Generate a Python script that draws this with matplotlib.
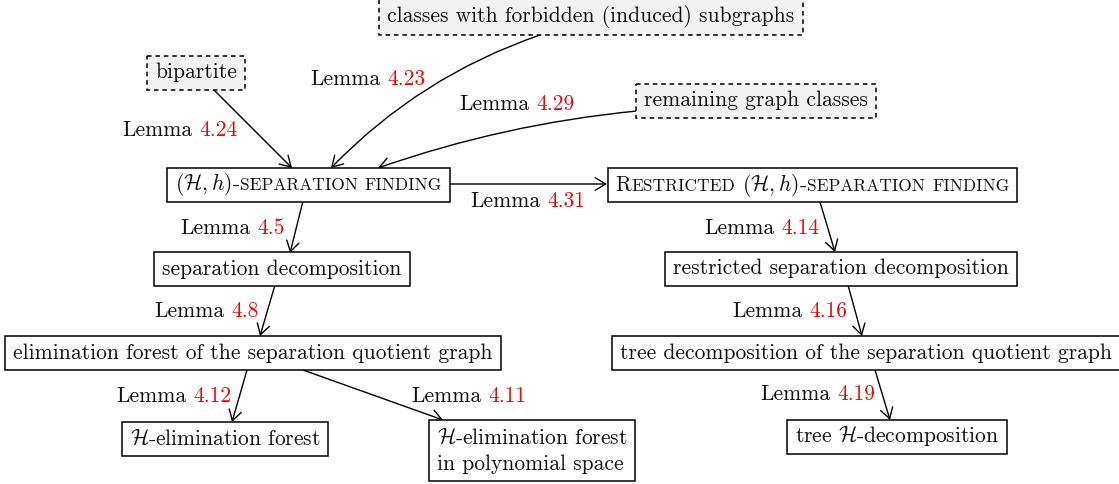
import matplotlib
matplotlib.use('Agg')
import matplotlib.pyplot as plt
from matplotlib.patches import Rectangle, FancyArrowPatch

plt.rcParams['font.family'] = 'cmr10'
plt.rcParams['mathtext.fontset'] = 'cm'
plt.rcParams['axes.unicode_minus'] = False

BIG = 15.5    # normal text size
SMALL = 12.5  # fake small caps
RED = '#ff0000'

# node texts: each node is a list of lines, each line a list of (text, kind)
# kind: 'n' normal, 's' small caps, ' ' = word gap
node_ids = ['forbidden', 'bipartite', 'remaining', 'sepfind', 'rsepfind',
            'sepdec', 'rsepdec', 'elimq', 'treeq', 'helim', 'helimpoly', 'treeh']
node_texts = {
    'forbidden': [[('classes with forbidden (induced) subgraphs', 'n')]],
    'bipartite': [[('bipartite', 'n')]],
    'remaining': [[('remaining graph classes', 'n')]],
    'sepfind': [[(r'$(\mathcal{H},h)$-', 'n'), ('SEPARATION', 's'), (' ', ' '), ('FINDING', 's')]],
    'rsepfind': [[('R', 'n'), ('ESTRICTED', 's'), (' ', ' '), (r'$(\mathcal{H},h)$-', 'n'),
                  ('SEPARATION', 's'), (' ', ' '), ('FINDING', 's')]],
    'sepdec': [[('separation decomposition', 'n')]],
    'rsepdec': [[('restricted separation decomposition', 'n')]],
    'elimq': [[('elimination forest of the separation quotient graph', 'n')]],
    'treeq': [[('tree decomposition of the separation quotient graph', 'n')]],
    'helim': [[(r'$\mathcal{H}$-elimination forest', 'n')]],
    'helimpoly': [[(r'$\mathcal{H}$-elimination forest', 'n')], [('in polynomial space', 'n')]],
    'treeh': [[(r'tree $\mathcal{H}$-decomposition', 'n')]],
}
dashed_nodes = ['forbidden', 'bipartite', 'remaining']

# edges: source, target, lemma number
edges = [
    ('bipartite', 'sepfind', '4.24'),
    ('forbidden', 'sepfind', '4.23'),
    ('remaining', 'sepfind', '4.29'),
    ('sepfind', 'rsepfind', '4.31'),
    ('sepfind', 'sepdec', '4.5'),
    ('sepdec', 'elimq', '4.8'),
    ('rsepfind', 'rsepdec', '4.14'),
    ('rsepdec', 'treeq', '4.16'),
    ('elimq', 'helim', '4.12'),
    ('elimq', 'helimpoly', '4.11'),
    ('treeq', 'treeh', '4.19'),
]

# ---- layout (pixel coordinates, y downwards) ----
node_center = {
    'forbidden': (591, 16.5), 'bipartite': (196, 72.5), 'remaining': (756, 100.5),
    'sepfind': (308.5, 184.5), 'rsepfind': (812.5, 185), 'sepdec': (282, 269),
    'rsepdec': (841, 268.5), 'elimq': (253, 353), 'treeq': (866, 353),
    'helim': (225, 438.5), 'helimpoly': (532, 450.5), 'treeh': (897, 436.5),
}
node_height = {'forbidden': 37, 'helimpoly': 61}
edge_pts = [
    ((214, 90), (292, 168), 0.0),
    ((540, 35), (331, 168), 0.12),
    ((637, 111), (378, 168), 0.06),
    ((450, 184), (607, 184), 0.0),
    ((303, 201), (290, 253), 0.0),
    ((275, 285), (260, 336), 0.0),
    ((820, 202), (835, 252), 0.0),
    ((848, 285), (862, 336), 0.0),
    ((247, 370), (232, 422), 0.0),
    ((303, 370), (443, 420), 0.0),
    ((875, 370), (890, 420), 0.0),
]
label_center = [(180, 130), (368, 79), (517, 104), (528, 201), (233, 228), (207, 311),
                (762, 228), (790, 311), (174, 396), (469, 396), (818, 394)]

PADX = 8
GAP = 7
LINE_SKIP = 26


fig = plt.figure(figsize=(11.19, 4.84), dpi=100)
ax = fig.add_axes([0, 0, 1, 1])
ax.set_xlim(0, 1119)
ax.set_ylim(484, 0)
ax.axis('off')
renderer = fig.canvas.get_renderer()


def draw_line(runs, x, y, ha='center'):
    # put the pieces one after another on a common baseline
    texts = []
    cur = x
    for s, kind in runs:
        if kind == ' ':
            cur += GAP
            continue
        size = SMALL if kind == 's' else BIG
        color = RED if kind == 'r' else '#111111'
        t = ax.text(cur, y, s, fontsize=size, color=color, va='baseline', ha='left', zorder=3)
        cur += t.get_window_extent(renderer).width
        texts.append(t)
    width = cur - x
    if ha == 'center':
        for t in texts:
            px, py = t.get_position()
            t.set_position((px - width / 2, py))
    return width


def line_width(runs):
    w = 0
    for s, kind in runs:
        if kind == ' ':
            w += GAP
            continue
        t = ax.text(0, 0, s, fontsize=SMALL if kind == 's' else BIG)
        w += t.get_window_extent(renderer).width
        t.remove()
    return w


for nid in node_ids:
    cx, cy = node_center[nid]
    h = node_height.get(nid, 34)
    lines = node_texts[nid]
    widths = [line_width(l) for l in lines]
    w = max(widths) + 2 * PADX
    if len(lines) == 1:
        draw_line(lines[0], cx, cy + 6)
    else:
        y0 = cy + 6 - LINE_SKIP * (len(lines) - 1) / 2
        for i, l in enumerate(lines):
            draw_line(l, cx - w / 2 + PADX, y0 + i * LINE_SKIP, ha='left')
    if nid in dashed_nodes:
        box = Rectangle((cx - w / 2, cy - h / 2), w, h, facecolor='#f2f2f2', edgecolor='black',
                        lw=1.1, linestyle=(0, (3, 2.5)), zorder=2)
    else:
        box = Rectangle((cx - w / 2, cy - h / 2), w, h, facecolor='white', edgecolor='black',
                        lw=1.1, zorder=2)
    ax.add_patch(box)

for (src, dst, lem), (pa, pb, rad), (lx, ly) in zip(edges, edge_pts, label_center):
    arr = FancyArrowPatch(pa, pb, arrowstyle='->,head_length=0.5,head_width=0.3',
                          connectionstyle='arc3,rad=%s' % rad, mutation_scale=15,
                          lw=1.0, color='black', shrinkA=0, shrinkB=0, zorder=1)
    ax.add_patch(arr)
    draw_line([('Lemma', 'n'), (' ', ' '), (lem, 'r')], lx, ly + 6)

fig.savefig('out.png', dpi=100)
